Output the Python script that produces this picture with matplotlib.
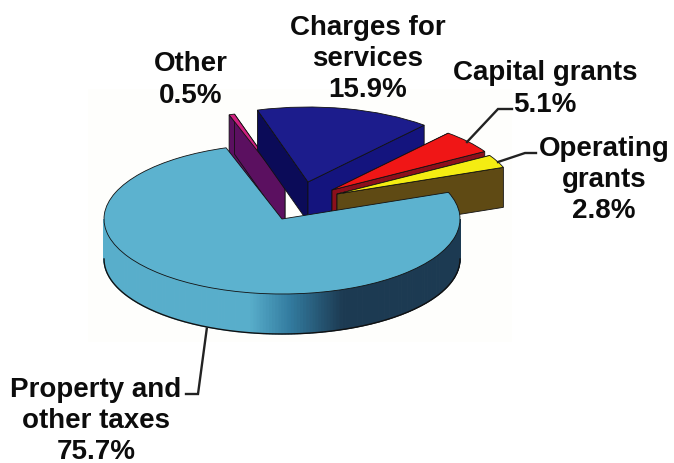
#!/usr/bin/env python3

# ----------------------------------------------
# Revenue sources, drawn as a tilted 3D pie
# ----------------------------------------------

import numpy as np
import matplotlib
matplotlib.use("Agg")
import matplotlib.pyplot as plt
from matplotlib.patches import Wedge, Polygon, Rectangle

# Slices in counter clockwise order
names = ["Property and\nother taxes", "Operating\ngrants", "Capital grants", "Charges for\nservices", "Other"]
shares = [75.7, 2.8, 5.1, 15.9, 0.5]

# Styling of each slice
top_colors = ["#5cb2cf", "#f4ec12", "#f01616", "#1c1c8c", "#cf2080"]
left_colors = ["#5cb2cf", "#5f4a14", "#8c101c", "#0b0b58", "#5b1060"]
right_colors = ["#5cb2cf", "#5f4a14", "#8c101c", "#14147e", "#5b1060"]
# Position of the tip of each slice, in pixels of the image
tips = [(282, 220), (337, 195), (332, 191), (308, 183), (285, 187)]
draw_order = [4, 3, 2, 1, 0]

W, H = 674, 464
radius = 178
squash = 75 / 178     # tilt of the pie
depth = 40 / squash   # thickness, in data units
start_angle = 108.3

plt.rcParams['font.family'] = ['Liberation Sans', 'DejaVu Sans']
fig = plt.figure(figsize=(W / 100, H / 100), dpi=100)
ax = fig.add_axes([0, 0, 1, 1])
ax.set_xlim(0, W)
ax.set_ylim(0, H / squash)
ax.axis("off")


def to_data(px, py):
    # Image pixels to data coordinates
    return px, (H - py) / squash


def line_px(xs, ys):
    ax.plot(xs, [(H - y) / squash for y in ys], color="#222222", lw=1.7, zorder=20, solid_joinstyle="miter")


# Scanned page background
ax.add_patch(Rectangle(to_data(88, 343), 424, 253 / squash, fc="#fefefc", ec="none", zorder=0))

# Angles of the slices
ends = start_angle + np.cumsum(shares) * 3.6
starts = ends - np.array(shares) * 3.6

# Rim colors of the big slice, depending on the x position
rim_x = [104, 250, 290, 343, 459]
rim_light = np.array([0x58, 0xae, 0xcb]) / 255
rim_mid = np.array([0x33, 0x7c, 0xa0]) / 255
rim_dark = np.array([0x1c, 0x3a, 0x52]) / 255
rim_rgb = [rim_light, rim_light, rim_mid, rim_dark, rim_dark]


def rim_color(x):
    return [np.interp(x, rim_x, [c[i] for c in rim_rgb]) for i in range(3)]


z = 1
for i in draw_order:
    cx, cy = to_data(*tips[i])
    t1, t2 = np.radians(starts[i]), np.radians(ends[i])

    if i == 0:
        # Rim of the big slice, only the front half can be seen
        steps = np.radians(np.linspace(180, 360, 181))
        for a, b in zip(steps[:-1], steps[1:]):
            xa, ya = cx + radius * np.cos(a), cy + radius * np.sin(a)
            xb, yb = cx + radius * np.cos(b), cy + radius * np.sin(b)
            col = rim_color((xa + xb) / 2)
            ax.add_patch(Polygon([(xa, ya), (xb, yb), (xb, yb - depth), (xa, ya - depth)],
                                 fc=col, ec=col, lw=0.8, zorder=z))
        arc_x = cx + radius * np.cos(steps)
        arc_y = cy + radius * np.sin(steps) - depth
        ax.plot(arc_x, arc_y, color="#111111", lw=1.0, zorder=z + 1)
    else:
        # The two cut faces of the slice
        for t, col in ((t2, left_colors[i]), (t1, right_colors[i])):
            ox, oy = cx + radius * np.cos(t), cy + radius * np.sin(t)
            ax.add_patch(Polygon([(cx, cy), (ox, oy), (ox, oy - depth), (cx, cy - depth)],
                                 fc=col, ec="#111111", lw=0.6, zorder=z))
            z += 1

    ax.add_patch(Wedge((cx, cy), radius, starts[i], ends[i], fc=top_colors[i], ec="#111111",
                       lw=0.6, zorder=z + 2))
    z += 3

# Leader lines
line_px([207, 198, 186], [328, 395, 395])
line_px([467, 498, 512], [143, 110, 110])
line_px([498, 525, 536], [163, 154, 154])

# Labels
fs = 20
labels = [(names[3] + "\n%.1f%%" % shares[3], 368, 59),
          (names[4] + "\n%.1f%%" % shares[4], 191, 80),
          (names[2] + "\n%.1f%%" % shares[2], 545, 89),
          (names[1] + "\n%.1f%%" % shares[1], 604, 180),
          (names[0] + "\n%.1f%%" % shares[0], 96, 421)]
for text, px, py in labels:
    x, y = to_data(px, py)
    ax.text(x, y, text, ha="center", va="center", fontsize=fs, fontweight="bold", color="#0c0c0c",
            linespacing=1.26, zorder=30)

fig.savefig("out.png", dpi=100, facecolor="white")
